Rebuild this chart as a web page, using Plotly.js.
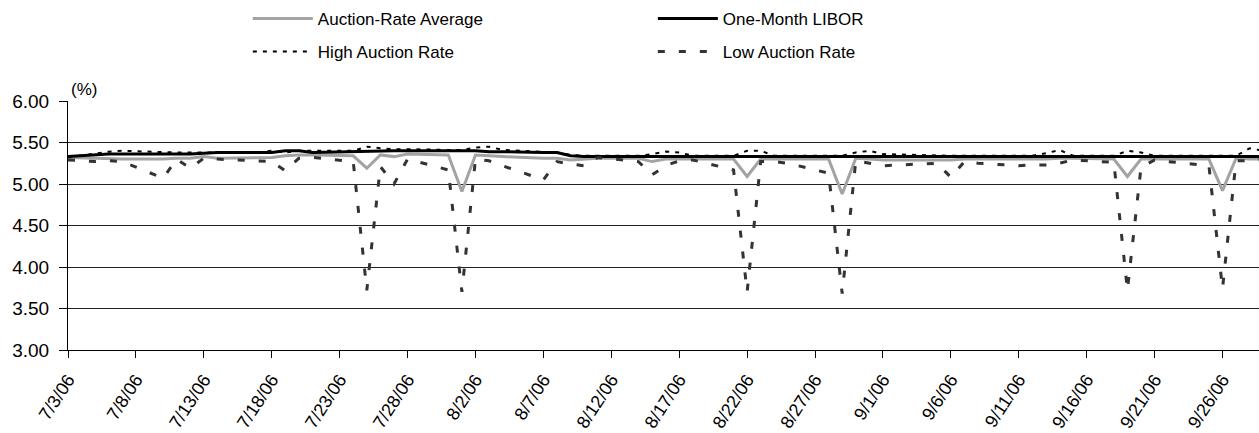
<!DOCTYPE html>
<html>
<head>
<meta charset="utf-8">
<script src="https://cdn.plot.ly/plotly-3.0.1.min.js"></script>
<style>html,body{margin:0;padding:0;background:#fff;}#chart{width:1259px;height:433px;}</style>
</head>
<body>
<div id="chart"></div>
<script>
// Trading days (2006)
const dates = [
 '2006-07-03','2006-07-05','2006-07-06','2006-07-07',
 '2006-07-10','2006-07-11','2006-07-12','2006-07-13','2006-07-14',
 '2006-07-17','2006-07-18','2006-07-19','2006-07-20','2006-07-21',
 '2006-07-24','2006-07-25','2006-07-26','2006-07-27','2006-07-28',
 '2006-07-31','2006-08-01','2006-08-02','2006-08-03','2006-08-04',
 '2006-08-07','2006-08-08','2006-08-09','2006-08-10','2006-08-11',
 '2006-08-14','2006-08-15','2006-08-16','2006-08-17','2006-08-18',
 '2006-08-21','2006-08-22','2006-08-23','2006-08-24','2006-08-25',
 '2006-08-28','2006-08-29','2006-08-30','2006-08-31','2006-09-01',
 '2006-09-05','2006-09-06','2006-09-07','2006-09-08',
 '2006-09-11','2006-09-12','2006-09-13','2006-09-14','2006-09-15',
 '2006-09-18','2006-09-19','2006-09-20','2006-09-21','2006-09-22',
 '2006-09-25','2006-09-26','2006-09-27','2006-09-28','2006-09-29'
];

const auctionAverage = [
 5.32,5.31,5.30,5.30,
 5.30,5.31,5.31,5.33,5.31,
 5.32,5.32,5.34,5.35,5.35,
 5.34,5.19,5.35,5.33,5.36,
 5.35,4.91,5.35,5.34,5.33,
 5.31,5.31,5.29,5.30,5.31,
 5.31,5.27,5.30,5.30,5.30,
 5.30,5.09,5.30,5.30,5.30,
 5.30,4.88,5.31,5.30,5.29,
 5.29,5.29,5.30,5.30,
 5.30,5.30,5.30,5.31,5.31,
 5.30,5.09,5.30,5.30,5.30,
 5.30,4.92,5.31,5.30,5.30
];

const oneMonthLibor = [
 5.33,5.35,5.36,5.36,
 5.36,5.36,5.36,5.37,5.38,
 5.38,5.38,5.40,5.40,5.38,
 5.39,5.40,5.40,5.40,5.40,
 5.40,5.40,5.40,5.39,5.39,
 5.38,5.38,5.34,5.33,5.33,
 5.33,5.33,5.33,5.33,5.33,
 5.33,5.33,5.33,5.33,5.33,
 5.33,5.33,5.33,5.33,5.33,
 5.33,5.33,5.33,5.33,
 5.33,5.33,5.33,5.33,5.33,
 5.33,5.33,5.33,5.33,5.33,
 5.33,5.33,5.33,5.33,5.33
];

const highAuctionRate = [
 5.32,5.37,5.39,5.40,
 5.38,5.38,5.38,5.38,5.38,
 5.38,5.40,5.38,5.40,5.40,
 5.40,5.45,5.43,5.42,5.42,
 5.41,5.41,5.44,5.45,5.41,
 5.39,5.38,5.35,5.34,5.34,
 5.34,5.36,5.39,5.38,5.34,
 5.34,5.40,5.40,5.34,5.34,
 5.34,5.34,5.38,5.40,5.36,
 5.34,5.34,5.34,5.34,
 5.34,5.34,5.37,5.41,5.34,
 5.34,5.40,5.38,5.34,5.34,
 5.34,5.34,5.34,5.43,5.40
];

const lowAuctionRate = [
 5.29,5.27,5.28,5.27,
 5.07,5.30,5.19,5.31,5.30,
 5.28,5.27,5.16,5.31,5.32,
 5.27,3.72,5.21,5.00,5.30,
 5.17,3.70,5.30,5.28,5.22,
 5.05,5.27,5.24,5.22,5.32,
 5.27,5.11,5.22,5.28,5.29,
 5.17,3.70,5.27,5.27,5.25,
 5.13,3.68,5.28,5.25,5.22,
 5.25,5.08,5.27,5.25,
 5.22,5.23,5.23,5.25,5.29,
 5.26,3.72,5.20,5.29,5.27,
 5.22,3.74,5.28,5.28,5.30
];

const tickDates = ['2006-07-03','2006-07-08','2006-07-13','2006-07-18','2006-07-23','2006-07-28',
 '2006-08-02','2006-08-07','2006-08-12','2006-08-17','2006-08-22','2006-08-27',
 '2006-09-01','2006-09-06','2006-09-11','2006-09-16','2006-09-21','2006-09-26'];
const tickLabels = ['7/3/06','7/8/06','7/13/06','7/18/06','7/23/06','7/28/06',
 '8/2/06','8/7/06','8/12/06','8/17/06','8/22/06','8/27/06',
 '9/1/06','9/6/06','9/11/06','9/16/06','9/21/06','9/26/06'];

const FONT = 'Liberation Sans, Arial, sans-serif';

const traces = [
 {x: dates, y: auctionAverage, name: 'Auction-Rate Average', mode: 'lines', legend: 'legend',
  line: {color: '#a3a3a3', width: 3}},
 {x: dates, y: oneMonthLibor, name: 'One-Month LIBOR', mode: 'lines', legend: 'legend',
  line: {color: '#000000', width: 3}},
 {x: dates, y: highAuctionRate, name: 'High Auction Rate', mode: 'lines', legend: 'legend2',
  line: {color: '#000000', width: 2, dash: '4px,6px'}},
 {x: dates, y: lowAuctionRate, name: 'Low Auction Rate', mode: 'lines', legend: 'legend2',
  line: {color: '#333333', width: 3, dash: '7px,14px'}}
];

const legendCommon = {
 orientation: 'h', xanchor: 'left', yanchor: 'middle', x: 0.151,
 entrywidth: 330, entrywidthmode: 'pixels', itemwidth: 60,
 font: {family: FONT, size: 17, color: '#000'}, bgcolor: 'rgba(0,0,0,0)', borderwidth: 0,
 traceorder: 'normal'
};

const layout = {
 width: 1259, height: 433,
 margin: {l: 68, r: 0, t: 101, b: 83},
 paper_bgcolor: '#fff', plot_bgcolor: '#fff',
 font: {family: FONT, size: 17, color: '#000'},
 showlegend: true,
 legend: Object.assign({}, legendCommon, {y: 1 + (101 - 19) / 249}),
 legend2: Object.assign({}, legendCommon, {y: 1 + (101 - 52) / 249}),
 xaxis: {
  type: 'date',
  range: ['2006-07-03', '2006-09-28 16:30'],
  tickmode: 'array', tickvals: tickDates, ticktext: tickLabels,
  tickangle: -57, ticks: 'outside', ticklen: 7, tickcolor: '#000', tickwidth: 1,
  ticklabelstandoff: 4,
  showline: true, linecolor: '#000', linewidth: 1,
  showgrid: false, zeroline: false,
  tickfont: {family: FONT, size: 18, color: '#000'}
 },
 yaxis: {
  range: [3, 6], tickmode: 'linear', tick0: 3, dtick: 0.5, tickformat: '.2f',
  ticks: 'outside', ticklen: 8, tickcolor: '#000', tickwidth: 1,
  ticklabelstandoff: 6,
  showline: true, linecolor: '#000', linewidth: 1,
  showgrid: true, gridcolor: '#222', gridwidth: 1, zeroline: false,
  tickfont: {family: FONT, size: 19, color: '#000'}
 },
 annotations: [
  {text: '(%)', xref: 'paper', yref: 'paper', x: 0, y: 1 + (101 - 90) / 249,
   xanchor: 'left', yanchor: 'middle', showarrow: false, xshift: 1,
   font: {family: FONT, size: 17, color: '#000'}}
 ]
};

Plotly.newPlot('chart', traces, layout, {displayModeBar: false, staticPlot: true});
</script>
</body>
</html>
